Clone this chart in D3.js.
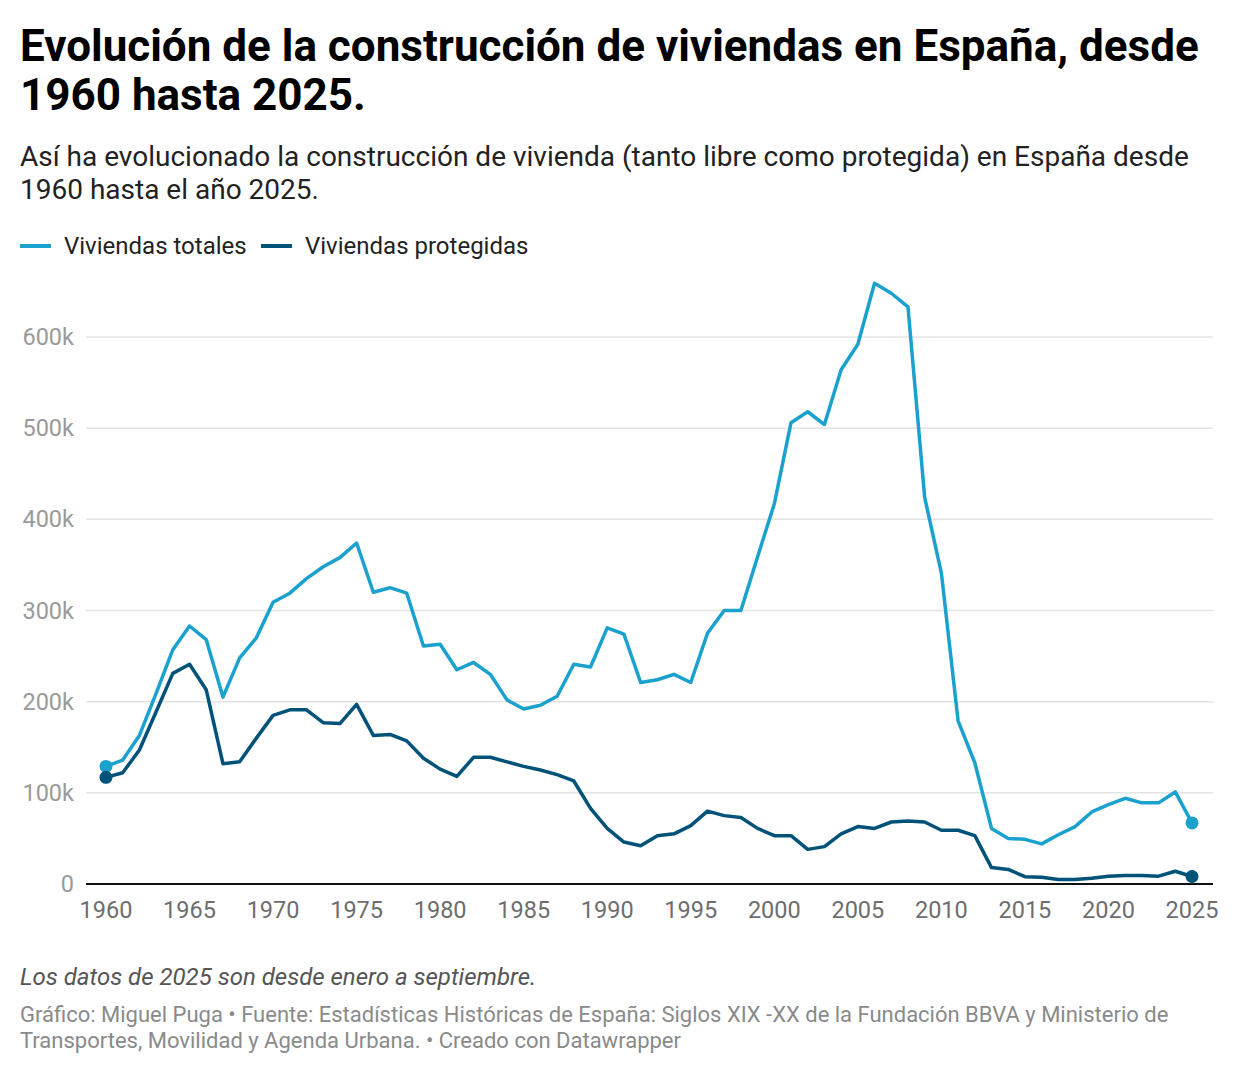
<!DOCTYPE html>
<html>
<head>
<meta charset="utf-8">
<script src="https://cdn.jsdelivr.net/npm/d3@7"></script>
<style>
  body { margin: 0; background: #fff; }
  svg { font-family: Roboto, sans-serif; display: block; }
</style>
</head>
<body>
<script>
const W = 1240
const H = 1074

// data
const years = d3.range(1960, 2026)
const totales = [
  129, 136, 163, 209, 257, 283, 268, 205, 248, 270,
  309, 319, 335, 348, 358, 374, 320, 325, 319, 261,
  263, 235, 243, 230, 202, 192, 196, 206, 241, 238,
  281, 274, 221, 224, 230, 221, 275, 300, 300, 359,
  417, 506, 518, 504, 564, 592, 659, 648, 633, 424,
  341, 179, 133, 61, 50, 49, 44, 54, 63, 79,
  87, 94, 89, 89, 101, 67
]
const protegidas = [
  117, 122, 147, 189, 231, 241, 213, 132, 134, 160,
  185, 191, 191, 177, 176, 197, 163, 164, 157, 138,
  126, 118, 139, 139, 134, 129, 125, 120, 113, 83,
  61, 46, 42, 53, 55, 64, 80, 75, 73, 61,
  53, 53, 38, 41, 55, 63, 61, 68, 69, 68,
  59, 59, 53, 18, 16, 8, 7.5, 5, 5, 6.4,
  8.6, 9.3, 9.3, 8.6, 14, 8.2
]
const yTicks = [0, 100, 200, 300, 400, 500, 600]
const xTicks = [1960, 1965, 1970, 1975, 1980, 1985, 1990, 1995, 2000, 2005, 2010, 2015, 2020, 2025]

const series = [
  { name: 'Viviendas totales', values: totales, color: '#1aa1cd' },
  { name: 'Viviendas protegidas', values: protegidas, color: '#005279' }
]

const svg = d3.select('body').append('svg')
  .attr('width', W)
  .attr('height', H)

// header
const title = svg.append('text')
  .attr('x', 20).attr('y', 61)
  .attr('font-size', 44).attr('font-weight', 700).attr('fill', '#000')
title.append('tspan').attr('x', 20).text('Evolución de la construcción de viviendas en España, desde')
title.append('tspan').attr('x', 20).attr('dy', 49).text('1960 hasta 2025.')

const sub = svg.append('text')
  .attr('x', 20).attr('y', 166)
  .attr('font-size', 28).attr('fill', '#222')
sub.append('tspan').attr('x', 20).text('Así ha evolucionado la construcción de vivienda (tanto libre como protegida) en España desde')
sub.append('tspan').attr('x', 20).attr('dy', 33).text('1960 hasta el año 2025.')

// legend
const legendX = [20, 261]
series.forEach((s, i) => {
  const g = svg.append('g').attr('transform', `translate(${legendX[i]},246)`)
  g.append('line').attr('x1', 0).attr('x2', 31).attr('y1', 0).attr('y2', 0)
    .attr('stroke', s.color).attr('stroke-width', 4)
  g.append('text').attr('x', 44).attr('y', 8)
    .attr('font-size', 24).attr('fill', '#222').text(s.name)
})

// scales
const x = d3.scaleLinear().domain([1960, 2025]).range([106, 1192])
const y = d3.scaleLinear().domain([0, 600]).range([884, 337])

// grid + y labels
const yAxis = svg.append('g')
yAxis.selectAll('line.grid')
  .data(yTicks.filter(d => d > 0))
  .enter().append('line')
  .attr('class', 'grid')
  .attr('x1', 86).attr('x2', 1213)
  .attr('y1', d => y(d)).attr('y2', d => y(d))
  .attr('stroke', '#e4e4e4').attr('stroke-width', 1.5)
yAxis.selectAll('text')
  .data(yTicks)
  .enter().append('text')
  .attr('x', 74).attr('y', d => y(d) + 8)
  .attr('text-anchor', 'end')
  .attr('font-size', 23.5).attr('fill', '#9a9a9a')
  .text(d => d === 0 ? '0' : d + 'k')

// baseline
svg.append('line')
  .attr('x1', 86).attr('x2', 1213)
  .attr('y1', y(0)).attr('y2', y(0))
  .attr('stroke', '#111').attr('stroke-width', 1.8)

// x labels
svg.append('g').selectAll('text')
  .data(xTicks)
  .enter().append('text')
  .attr('x', d => x(d)).attr('y', 918)
  .attr('text-anchor', 'middle')
  .attr('font-size', 23.5).attr('fill', '#6e6e6e')
  .text(d => d)

// lines
const line = d3.line()
  .x((d, i) => x(years[i]))
  .y(d => y(d))

series.forEach(s => {
  svg.append('path')
    .datum(s.values)
    .attr('d', line)
    .attr('fill', 'none')
    .attr('stroke', s.color)
    .attr('stroke-width', 3.5)
    .attr('stroke-linejoin', 'round')
  // end dots
  svg.selectAll(null)
    .data([0, s.values.length - 1])
    .enter().append('circle')
    .attr('cx', i => x(years[i]))
    .attr('cy', i => y(s.values[i]))
    .attr('r', 6.5)
    .attr('fill', s.color)
})

// notes
svg.append('text')
  .attr('x', 20).attr('y', 985)
  .attr('font-size', 24).attr('font-style', 'italic').attr('fill', '#555')
  .text('Los datos de 2025 son desde enero a septiembre.')

const foot = svg.append('text')
  .attr('x', 20).attr('y', 1022)
  .attr('font-size', 22).attr('fill', '#8a8a8a')
foot.append('tspan').attr('x', 20)
  .text('Gráfico: Miguel Puga • Fuente: Estadísticas Históricas de España: Siglos XIX -XX de la Fundación BBVA y Ministerio de')
foot.append('tspan').attr('x', 20).attr('dy', 26)
  .text('Transportes, Movilidad y Agenda Urbana. • Creado con Datawrapper')
</script>
</body>
</html>
